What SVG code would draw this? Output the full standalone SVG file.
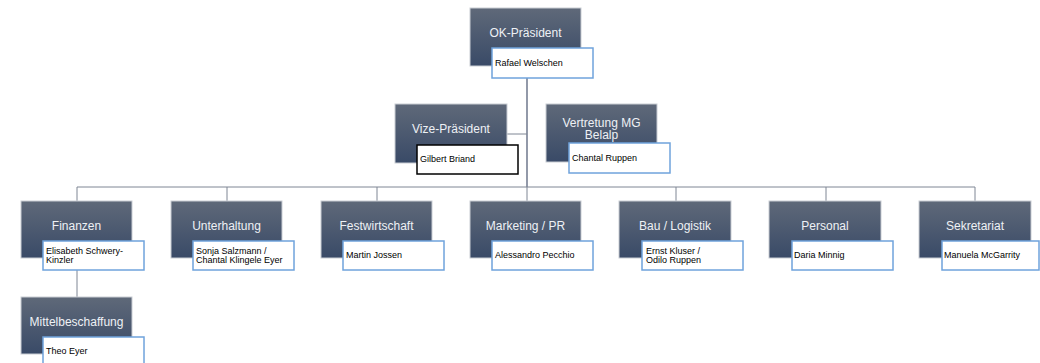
<svg xmlns="http://www.w3.org/2000/svg" width="1040" height="363" viewBox="0 0 1040 363">
<defs>
<linearGradient id="g" x1="0" y1="0" x2="0" y2="1">
<stop offset="0" stop-color="#5f6979"/>
<stop offset="1" stop-color="#394a67"/>
</linearGradient>
</defs>
<style>
.box{fill:url(#g);stroke:#c9cdd4;stroke-width:1}
.nb{fill:#fff;stroke:#6fa3dc;stroke-width:1.5}
.nbk{fill:#fff;stroke:#000;stroke-width:1.5}
.t{font-family:"Liberation Sans",Arial,sans-serif;font-size:12px;fill:#eef1f5;text-anchor:middle}
.n{font-family:"Liberation Sans",Arial,sans-serif;font-size:9px;fill:#000}
.c{fill:none;stroke:#7f8694;stroke-width:1}
.cm{fill:none;stroke:#4a5670;stroke-width:1.2}
</style>
<rect width="1040" height="363" fill="#fff"/>
<g id="connectors">
<path class="cm" d="M527,78 V187"/>
<path class="c" d="M507,134 H527"/>
<path class="c" d="M77,201 V187 H975 V201"/>
<path class="c" d="M227,187 V201 M377,187 V201 M527,187 V201 M676,187 V201 M826,187 V201"/>
<path class="c" d="M77,270 V297"/>
</g>
<g id="ok-praesident">
<rect class="box" x="470" y="8" width="111" height="58"/>
<text class="t" x="525.5" y="37">OK-Präsident</text>
<rect class="nb" x="492" y="48" width="101" height="30"/>
<text class="n" x="495" y="66">Rafael Welschen</text>
</g>
<g id="vize-praesident">
<rect class="box" x="395" y="104" width="112" height="59"/>
<text class="t" x="451" y="133">Vize-Präsident</text>
<rect class="nbk" x="417" y="145" width="101" height="29"/>
<text class="n" x="420" y="162">Gilbert Briand</text>
</g>
<g id="vertretung-mg">
<rect class="box" x="546" y="104" width="111" height="58"/>
<text class="t" x="601.5" y="127">Vertretung MG</text>
<text class="t" x="601.5" y="139">Belalp</text>
<rect class="nb" x="569" y="143" width="101" height="30"/>
<text class="n" x="572" y="161">Chantal Ruppen</text>
</g>
<g id="finanzen">
<rect class="box" x="21" y="201" width="111" height="57"/>
<text class="t" x="76.5" y="230">Finanzen</text>
<rect class="nb" x="43" y="241" width="101" height="29"/>
<text class="n" x="46" y="254">Elisabeth Schwery-</text>
<text class="n" x="46" y="263">Kinzler</text>
</g>
<g id="unterhaltung">
<rect class="box" x="171" y="201" width="111" height="57"/>
<text class="t" x="226.5" y="230">Unterhaltung</text>
<rect class="nb" x="193" y="241" width="101" height="29"/>
<text class="n" x="196" y="254">Sonja Salzmann /</text>
<text class="n" x="196" y="263">Chantal Klingele Eyer</text>
</g>
<g id="festwirtschaft">
<rect class="box" x="321" y="201" width="111" height="57"/>
<text class="t" x="376.5" y="230">Festwirtschaft</text>
<rect class="nb" x="343" y="241" width="101" height="29"/>
<text class="n" x="346" y="258">Martin Jossen</text>
</g>
<g id="marketing-pr">
<rect class="box" x="470" y="201" width="111" height="57"/>
<text class="t" x="525.5" y="230">Marketing / PR</text>
<rect class="nb" x="492" y="241" width="101" height="29"/>
<text class="n" x="495" y="258">Alessandro Pecchio</text>
</g>
<g id="bau-logistik">
<rect class="box" x="619" y="201" width="112" height="57"/>
<text class="t" x="675" y="230">Bau / Logistik</text>
<rect class="nb" x="642" y="241" width="101" height="29"/>
<text class="n" x="646" y="254">Ernst Kluser /</text>
<text class="n" x="646" y="263">Odilo Ruppen</text>
</g>
<g id="personal">
<rect class="box" x="769" y="201" width="112" height="57"/>
<text class="t" x="825" y="230">Personal</text>
<rect class="nb" x="792" y="241" width="101" height="29"/>
<text class="n" x="794" y="258">Daria Minnig</text>
</g>
<g id="sekretariat">
<rect class="box" x="919" y="201" width="112" height="57"/>
<text class="t" x="975" y="230">Sekretariat</text>
<rect class="nb" x="942" y="241" width="97" height="29"/>
<text class="n" x="944" y="258">Manuela McGarrity</text>
</g>
<g id="mittelbeschaffung">
<rect class="box" x="21" y="297" width="111" height="57"/>
<text class="t" x="76.5" y="326">Mittelbeschaffung</text>
<rect class="nb" x="43" y="337" width="101" height="30"/>
<text class="n" x="46" y="354">Theo Eyer</text>
</g>
</svg>
